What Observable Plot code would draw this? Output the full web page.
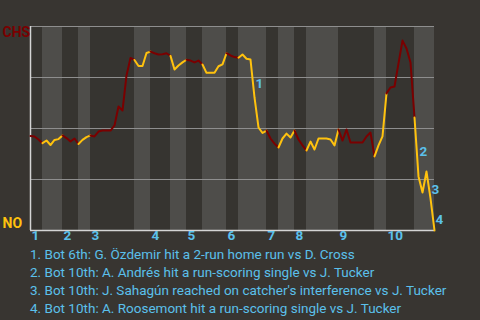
<!DOCTYPE html>
<html><head><meta charset="utf-8">
<script src="https://cdn.jsdelivr.net/npm/d3@7"></script>
<script src="https://cdn.jsdelivr.net/npm/@observablehq/plot@0.6"></script>
<style>
html,body{margin:0;padding:0;background:#383531;width:480px;height:320px;overflow:hidden;}
#chart svg{display:block;}
#notes{font-family:Roboto,"Noto Sans",sans-serif;font-size:13.5px;color:#5bc0eb;padding-left:30px;line-height:18px;white-space:nowrap;}
</style></head><body><div id="chart"></div><div id="notes"></div>
<script>
// CHS win probability after each play (play 0 = first pitch)
const winProb = [
  0.463,0.461,0.446,0.428,0.441,0.419,0.444,0.448,0.466,0.453,
  0.436,0.451,0.424,0.444,0.458,0.466,0.461,0.485,0.490,0.490,
  0.490,0.515,0.608,0.588,0.760,0.846,0.836,0.806,0.806,0.870,
  0.877,0.869,0.863,0.864,0.869,0.856,0.789,0.809,0.824,0.837,
  0.833,0.824,0.833,0.814,0.773,0.773,0.773,0.805,0.814,0.869,
  0.858,0.850,0.847,0.863,0.842,0.838,0.652,0.505,0.478,0.490,
  0.451,0.426,0.407,0.451,0.475,0.456,0.490,0.446,0.417,0.392,
  0.436,0.397,0.451,0.451,0.451,0.446,0.417,0.495,0.441,0.495,
  0.431,0.431,0.431,0.431,0.461,0.480,0.363,0.417,0.461,0.672,
  0.701,0.706,0.819,0.931,0.892,0.824,0.554,0.265,0.186,0.289,
  0.157,0.000
];
// play index where each half-inning starts (top 1st ... bottom 10th), plus end
const halfBounds = [0,3,8,12,15,26,30,35,39,43,49,52,59,62,66,69,77,86,89,96,101];
const inningLabels = ["1","2","3","4","5","6","7","8","9","10"];
const teamTop = "CHS";
const teamBottom = "NO";
const eventNums = ["1","2","3","4"];
const eventPlays = [56,97,100,101];
const notes = [
  "1. Bot 6th: G. Özdemir hit a 2-run home run vs D. Cross",
  "2. Bot 10th: A. Andrés hit a run-scoring single vs J. Tucker",
  "3. Bot 10th: J. Sahagún reached on catcher's interference vs J. Tucker",
  "4. Bot 10th: A. Roosemont hit a run-scoring single vs J. Tucker"
];

const RED = "#7a0000", YEL = "#ffc20e", BLUE = "#5bc0eb";
const DARK = "#363430", LIGHT = "#4e4d4a";

const halves = d3.range(halfBounds.length - 1);
const rows = [];
for (const h of halves) {
  for (let k = halfBounds[h]; k <= halfBounds[h+1]; k++) rows.push({play:k, p:winProb[k], half:h});
}
const innings = inningLabels.map((t,i) => ({label:t, play:halfBounds[2*i]}));
const events = eventNums.map((t,i) => ({label:t, play:eventPlays[i], p:(winProb[eventPlays[i]-1]+winProb[eventPlays[i]])/2}));

const chart = Plot.plot({
  width: 480, height: 245,
  marginLeft: 30, marginRight: 46, marginTop: 26, marginBottom: 15,
  style: {background: "transparent", fontFamily: "Roboto, 'Noto Sans', sans-serif"},
  x: {domain: [0, halfBounds[halfBounds.length-1]], axis: null},
  y: {domain: [0, 1], axis: null},
  color: {type: "identity"},
  marks: [
    Plot.rect(halves, {x1: h => halfBounds[h], x2: h => halfBounds[h+1], fill: h => h % 2 ? LIGHT : DARK}),
    Plot.ruleY([0.25, 0.5, 0.75, 1], {stroke: "#8e8e8e", strokeWidth: 1}),
    Plot.ruleY([0], {stroke: "#d4d4d4", strokeWidth: 1.5}),
    Plot.ruleX([0], {stroke: "#d4d4d4", strokeWidth: 1.5}),
    Plot.line(rows, {x: "play", y: "p", z: "half", stroke: d => d.half % 2 ? YEL : RED, strokeWidth: 2, strokeLinejoin: "round"}),
    Plot.text(events, {x: "play", y: "p", text: "label", fill: BLUE, fontSize: 13.5, fontWeight: "bold", textAnchor: "start", dx: 1, dy: 5}),
    Plot.text(innings, {x: "play", text: "label", frameAnchor: "bottom", dy: 9, dx: 1, textAnchor: "start", fill: BLUE, fontSize: 13.5, fontWeight: "bold"}),
    Plot.text([teamTop], {text: d => d, frameAnchor: "top-left", dx: -28, dy: 1, textAnchor: "start", lineAnchor: "top", fill: RED, fontSize: 14, fontWeight: "bold"}),
    Plot.text([teamBottom], {text: d => d, frameAnchor: "bottom-left", dx: -28, dy: -3, textAnchor: "start", lineAnchor: "bottom", fill: YEL, fontSize: 14, fontWeight: "bold"})
  ]
});
document.getElementById("chart").appendChild(chart);
const nd = document.getElementById("notes");
for (const n of notes) { const div = document.createElement("div"); div.textContent = n; nd.appendChild(div); }
</script>
</body></html>
